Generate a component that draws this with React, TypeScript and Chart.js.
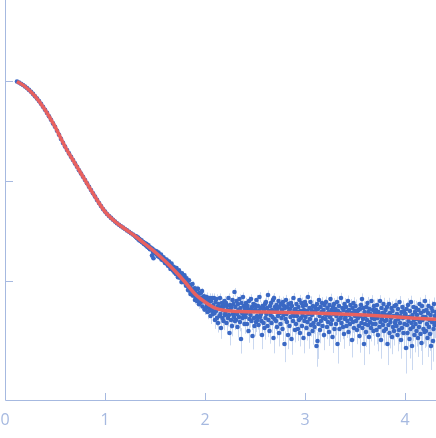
import React, { useEffect, useRef } from "react";
import { Chart, registerables } from "chart.js";

Chart.register(...registerables);

// Axis ticks (x: momentum transfer; y: decades of log10 intensity)
const xTickValues = [0, 1, 2, 3, 4];
const xTickLabels = ["0", "1", "2", "3", "4"];
const yTickValues = [1, 2, 3];

// Experimental data, log10 intensity, three sampling segments
const lowQStart = 0.12;
const lowQStep = 0.02;
const lowQLogI = [
  2.995, 2.985, 2.973, 2.96, 2.945, 2.929, 2.911, 2.892, 2.871, 2.848,
  2.824, 2.799, 2.772, 2.743, 2.713, 2.681, 2.647, 2.613, 2.576, 2.543,
  2.503, 2.463, 2.421, 2.381, 2.345, 2.31, 2.276, 2.243, 2.21, 2.176,
  2.142, 2.108, 2.075, 2.043, 2.01, 1.977, 1.943, 1.91, 1.877, 1.844,
  1.811, 1.779, 1.749, 1.72, 1.694, 1.67, 1.65, 1.631, 1.613, 1.595,
  1.577, 1.562, 1.548, 1.534, 1.52, 1.506, 1.492, 1.478, 1.464, 1.45,
];

const midQStart = 1.305;
const midQStep = 0.005;
const midQLogI = [
  1.45, 1.439, 1.445, 1.429, 1.432, 1.435, 1.416, 1.421, 1.406, 1.415, 1.407, 1.398, 1.408, 1.387, 1.392, 1.384, 1.388, 1.369, 1.378, 1.369,
  1.374, 1.356, 1.37, 1.352, 1.34, 1.351, 1.356, 1.331, 1.337, 1.318, 1.335, 1.318, 1.324, 1.254, 1.321, 1.291, 1.227, 1.302, 1.304, 1.282,
  1.298, 1.272, 1.297, 1.268, 1.275, 1.248, 1.284, 1.257, 1.238, 1.261, 1.235, 1.264, 1.214, 1.236, 1.224, 1.208, 1.236, 1.206, 1.219, 1.18,
  1.21, 1.178, 1.215, 1.175, 1.197, 1.152, 1.173, 1.195, 1.145, 1.168, 1.12, 1.145, 1.175, 1.122, 1.145, 1.105, 1.143, 1.11, 1.085, 1.132,
  1.12, 1.069, 1.129, 1.07, 1.103, 1.037, 1.074, 1.106, 1.036, 1.08, 1.035, 1.054, 0.989, 1.078, 1.026, 0.99, 1.045, 0.989, 1.056, 1.005,
  1.014, 0.953, 1.027, 0.956, 1.0, 0.909, 0.963, 1.007, 0.906, 0.95, 0.869, 0.963, 0.917, 0.886, 0.97, 0.854, 0.913, 0.867, 0.926, 0.81,
  0.906, 0.832, 0.923, 0.799, 0.87, 0.921, 0.832, 0.768, 0.879, 0.835, 0.786, 0.882, 0.798, 0.899, 0.745, 0.836, 0.797, 0.848, 0.714, 0.815,
];

const highQStart = 2.005;
const highQStep = 0.005;
const highQLogI = [
  0.82, 0.73, 0.84, 0.76, 0.69, 0.81, 0.78, 0.7, 0.83, 0.73, 0.65, 0.8, 0.74, 0.83, 0.7, 0.67, 0.76, 0.83, 0.68, 0.61,
  0.79, 0.7, 0.82, 0.63, 0.74, 0.58, 0.77, 0.73, 0.65, 0.83, 0.67, 0.53, 0.74, 0.78, 0.63, 0.71, 0.6, 0.75, 0.8, 0.66,
  0.68, 0.78, 0.58, 0.75, 0.71, 0.63, 0.83, 0.66, 0.48, 0.76, 0.72, 0.61, 0.74, 0.55, 0.81, 0.67, 0.77, 0.64, 0.89, 0.6,
  0.74, 0.61, 0.8, 0.67, 0.54, 0.77, 0.71, 0.64, 0.82, 0.59, 0.73, 0.42, 0.78, 0.68, 0.63, 0.84, 0.66, 0.75, 0.57, 0.72,
  0.64, 0.78, 0.68, 0.57, 0.75, 0.72, 0.5, 0.8, 0.62, 0.71, 0.66, 0.82, 0.6, 0.74, 0.45, 0.7, 0.77, 0.63, 0.55, 0.76,
  0.72, 0.59, 0.81, 0.65, 0.61, 0.75, 0.56, 0.7, 0.84, 0.64, 0.73, 0.67, 0.6, 0.46, 0.75, 0.74, 0.58, 0.71, 0.53, 0.77,
  0.63, 0.79, 0.67, 0.73, 0.55, 0.86, 0.61, 0.7, 0.5, 0.75, 0.66, 0.78, 0.58, 0.71, 0.64, 0.81, 0.43, 0.83, 0.62, 0.74,
  0.7, 0.6, 0.76, 0.54, 0.72, 0.65, 0.8, 0.48, 0.74, 0.68, 0.57, 0.77, 0.63, 0.71, 0.52, 0.79, 0.66, 0.75, 0.37, 0.73,
  0.62, 0.81, 0.67, 0.59, 0.74, 0.46, 0.77, 0.7, 0.55, 0.72, 0.64, 0.78, 0.42, 0.75, 0.68, 0.6, 0.83, 0.65, 0.71, 0.51,
  0.72, 0.57, 0.77, 0.65, 0.69, 0.52, 0.74, 0.61, 0.81, 0.48, 0.7, 0.63, 0.78, 0.55, 0.66, 0.75, 0.43, 0.71, 0.6, 0.79,
  0.64, 0.76, 0.53, 0.7, 0.59, 0.84, 0.67, 0.47, 0.73, 0.62, 0.79, 0.56, 0.71, 0.66, 0.5, 0.75, 0.58, 0.69, 0.54, 0.74,
  0.7, 0.61, 0.35, 0.77, 0.4, 0.72, 0.57, 0.81, 0.65, 0.51, 0.74, 0.6, 0.69, 0.78, 0.55, 0.63, 0.71, 0.46, 0.76, 0.67,
  0.62, 0.79, 0.66, 0.54, 0.73, 0.59, 0.69, 0.49, 0.76, 0.64, 0.82, 0.57, 0.71, 0.61, 0.44, 0.74, 0.67, 0.77, 0.52, 0.7,
  0.72, 0.57, 0.65, 0.79, 0.37, 0.7, 0.61, 0.75, 0.52, 0.68, 0.63, 0.83, 0.58, 0.66, 0.73, 0.54, 0.71, 0.47, 0.77, 0.62,
  0.64, 0.74, 0.55, 0.69, 0.6, 0.8, 0.49, 0.71, 0.66, 0.57, 0.76, 0.62, 0.68, 0.41, 0.73, 0.59, 0.78, 0.53, 0.7, 0.65,
  0.75, 0.6, 0.67, 0.51, 0.7, 0.63, 0.71, 0.55, 0.45, 0.72, 0.65, 0.76, 0.58, 0.82, 0.53, 0.62, 0.73, 0.37, 0.69, 0.57,
  0.65, 0.49, 0.74, 0.61, 0.78, 0.56, 0.69, 0.44, 0.72, 0.59, 0.67, 0.53, 0.8, 0.63, 0.57, 0.71, 0.5, 0.75, 0.62, 0.68,
  0.57, 0.71, 0.51, 0.76, 0.63, 0.46, 0.69, 0.66, 0.54, 0.8, 0.59, 0.41, 0.73, 0.62, 0.68, 0.56, 0.77, 0.5, 0.67, 0.6,
  0.71, 0.52, 0.61, 0.74, 0.37, 0.66, 0.56, 0.77, 0.48, 0.68, 0.59, 0.63, 0.73, 0.44, 0.7, 0.54, 0.65, 0.5, 0.75, 0.58,
  0.6, 0.76, 0.55, 0.67, 0.46, 0.72, 0.62, 0.51, 0.79, 0.58, 0.65, 0.41, 0.69, 0.53, 0.74, 0.63, 0.48, 0.7, 0.57, 0.66,
  0.67, 0.33, 0.72, 0.56, 0.48, 0.76, 0.6, 0.64, 0.42, 0.7, 0.52, 0.79, 0.58, 0.35, 0.66, 0.54, 0.74, 0.61, 0.46, 0.69,
  0.57, 0.73, 0.5, 0.66, 0.62, 0.43, 0.71, 0.54, 0.77, 0.59, 0.47, 0.68, 0.38, 0.75, 0.61, 0.64, 0.52, 0.7, 0.49, 0.8,
  0.64, 0.5, 0.71, 0.57, 0.43, 0.68, 0.75, 0.54, 0.61, 0.47, 0.66, 0.35, 0.73, 0.59, 0.7, 0.4, 0.52, 0.77, 0.56, 0.65,
  0.58, 0.69,
];

// Absolute intensity uncertainty, per q segment
const sigmaEdges = [0, 1.3, 1.6, 1.8, 2.0, 2.5, 3.0, 3.5, 4.0];
const sigmaValues = [0.3, 0.4, 0.5, 0.6, 0.75, 0.8, 0.85, 0.9, 0.95];

// Model fit curve
const fitQ = [
  0.12, 0.2, 0.3, 0.4, 0.5, 0.6, 0.7, 0.8, 0.9, 1.0, 1.1, 1.2, 1.3, 1.4, 1.5, 1.6,
  1.7, 1.8, 1.9, 2.0, 2.1, 2.2, 2.35, 2.6, 2.85, 3.1, 3.35, 3.6, 3.85, 4.1, 4.31,
];
const fitLogI = [
  2.995, 2.945, 2.848, 2.713, 2.543, 2.345, 2.176, 2.01, 1.844, 1.694, 1.595, 1.52, 1.45, 1.37, 1.29, 1.2,
  1.1, 0.99, 0.87, 0.79, 0.73, 0.705, 0.695, 0.69, 0.686, 0.679, 0.671, 0.66, 0.645, 0.628, 0.617,
];

const AXIS_COLOR = "#a6b9e0";
const POINT_COLOR = "#3a68c4";
const ERR_COLOR = "rgba(150,178,225,0.5)";
const FIT_COLOR = "#e8615f";

function segmentPoints(start: number, step: number, values: number[]) {
  return values.map((y, i) => ({ x: +(start + i * step).toFixed(4), y }));
}

function sigmaAt(q: number) {
  let s = sigmaValues[0];
  for (let i = 0; i < sigmaEdges.length; i++) if (q >= sigmaEdges[i]) s = sigmaValues[i];
  return s;
}

const errorBarPlugin = {
  id: "errorBars",
  beforeDatasetsDraw(chart: any) {
    const { ctx, chartArea, scales } = chart;
    const ds = chart.data.datasets[0];
    ctx.save();
    ctx.beginPath();
    ctx.rect(chartArea.left, chartArea.top, chartArea.right - chartArea.left, chartArea.bottom - chartArea.top);
    ctx.clip();
    ctx.strokeStyle = ERR_COLOR;
    ctx.lineWidth = 1;
    for (const p of ds.data as { x: number; y: number }[]) {
      const I = Math.pow(10, p.y);
      const s = sigmaAt(p.x);
      const hi = Math.log10(I + s);
      const lo = Math.log10(Math.max(I - s, 1e-6));
      const px = Math.round(scales.x.getPixelForValue(p.x)) + 0.5;
      ctx.beginPath();
      ctx.moveTo(px, scales.y.getPixelForValue(hi));
      ctx.lineTo(px, scales.y.getPixelForValue(lo));
      ctx.stroke();
    }
    ctx.restore();
  },
};

const axesPlugin = {
  id: "customAxes",
  afterDraw(chart: any) {
    const { ctx, chartArea, scales } = chart;
    const left = chartArea.left;
    const bottom = chartArea.bottom;
    ctx.save();
    ctx.strokeStyle = AXIS_COLOR;
    ctx.lineWidth = 1;
    ctx.beginPath();
    ctx.moveTo(left + 0.5, chartArea.top);
    ctx.lineTo(left + 0.5, bottom + 0.5);
    ctx.lineTo(chartArea.right, bottom + 0.5);
    ctx.stroke();
    // y ticks (inward)
    for (const v of yTickValues) {
      const py = Math.round(scales.y.getPixelForValue(v)) + 0.5;
      ctx.beginPath();
      ctx.moveTo(left, py);
      ctx.lineTo(left + 8, py);
      ctx.stroke();
    }
    // x ticks (inward) and labels
    ctx.fillStyle = AXIS_COLOR;
    ctx.font = "16px 'Open Sans', 'DejaVu Sans', sans-serif";
    ctx.textAlign = "center";
    ctx.textBaseline = "middle";
    xTickValues.forEach((v, i) => {
      const px = Math.round(scales.x.getPixelForValue(v)) + 0.5;
      if (v !== 0) {
        ctx.beginPath();
        ctx.moveTo(px, bottom);
        ctx.lineTo(px, bottom - 7);
        ctx.stroke();
      }
      ctx.fillText(xTickLabels[i], px - 0.5, bottom + 20);
    });
    ctx.restore();
  },
};

export default function App() {
  const canvasRef = useRef<HTMLCanvasElement | null>(null);

  useEffect(() => {
    if (!canvasRef.current) return;
    const points = [
      ...segmentPoints(lowQStart, lowQStep, lowQLogI),
      ...segmentPoints(midQStart, midQStep, midQLogI),
      ...segmentPoints(highQStart, highQStep, highQLogI),
    ];
    const fit = fitQ.map((x, i) => ({ x, y: fitLogI[i] }));
    const chart = new Chart(canvasRef.current, {
      type: "scatter",
      data: {
        datasets: [
          {
            label: "data",
            data: points,
            pointRadius: 2.3,
            pointBorderWidth: 0,
            pointBackgroundColor: POINT_COLOR,
            backgroundColor: POINT_COLOR,
            showLine: false,
            order: 2,
          },
          {
            label: "fit",
            type: "line",
            data: fit,
            borderColor: FIT_COLOR,
            borderWidth: 3.5,
            pointRadius: 0,
            fill: false,
            cubicInterpolationMode: "monotone",
            order: 1,
          },
        ],
      } as any,
      options: {
        animation: false,
        responsive: true,
        maintainAspectRatio: false,
        layout: { autoPadding: false, padding: { left: 5, right: 0, top: 0, bottom: 38 } },
        plugins: { legend: { display: false }, tooltip: { enabled: false } },
        scales: {
          x: { type: "linear", min: 0, max: 4.31, display: false },
          y: { type: "linear", min: -0.19, max: 3.81, display: false },
        },
      },
      plugins: [errorBarPlugin, axesPlugin],
    });
    return () => chart.destroy();
  }, []);

  return (
    <div style={{ position: "fixed", left: 0, top: 0, width: 436, height: 438, background: "#fff" }}>
      <canvas ref={canvasRef} />
    </div>
  );
}
